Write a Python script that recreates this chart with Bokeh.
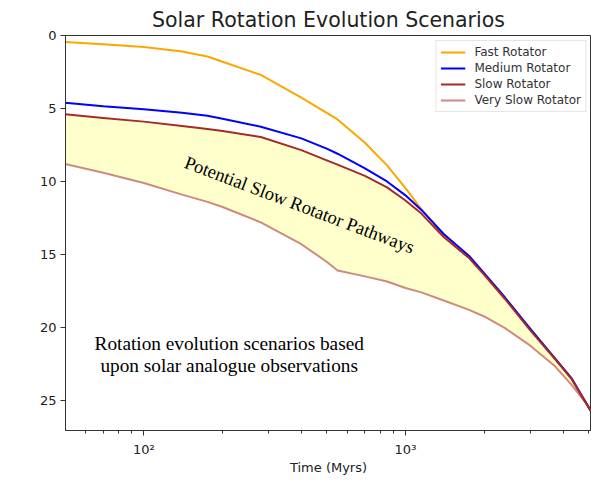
from bokeh.plotting import figure
from bokeh.models import Range1d, FixedTicker, Label, Legend
from bokeh.embed import file_html
from bokeh.resources import INLINE
import math

# ---- data ----
time_myr = [50, 70, 100, 140, 175, 200, 280, 400, 500, 550, 700, 850, 1000, 1150,
            1400, 1750, 2000, 2400, 3000, 3700, 4300, 5100]
fast_rot = [0.45, 0.6, 0.78, 1.1, 1.44, 1.8, 2.7, 4.25, 5.3, 5.75, 7.35, 8.9, 10.45, 11.9,
            13.65, 15.1, 16.3, 17.95, 20.1, 22.05, 23.45, 25.7]
medium_rot = [4.6, 4.85, 5.05, 5.3, 5.5, 5.7, 6.25, 7.05, 7.75, 8.1, 9.1, 10.0, 10.95, 11.95,
              13.6, 15.1, 16.3, 17.95, 20.1, 22.05, 23.45, 25.7]
slow_rot = [5.4, 5.65, 5.9, 6.2, 6.4, 6.55, 6.95, 7.85, 8.55, 8.85, 9.62, 10.4, 11.3, 12.2,
            13.8, 15.25, 16.4, 18.05, 20.2, 22.1, 23.5, 25.7]
very_slow_rot = [8.8, 9.4, 10.1, 10.9, 11.4, 11.75, 12.8, 14.3, 15.5, 16.1, 16.5, 16.85, 17.3, 17.6,
                 18.15, 18.8, 19.25, 20.05, 21.25, 22.6, 23.9, 25.6]
series_names = ["Fast Rotator", "Medium Rotator", "Slow Rotator", "Very Slow Rotator"]
y_ticks = [0, 5, 10, 15, 20, 25]
x_major_ticks = [100, 1000]
x_major_labels = {100: "10\u00b2", 1000: "10\u00b3"}
x_minor_ticks = [50, 60, 70, 80, 90, 200, 300, 400, 500, 600, 700, 800, 900, 2000, 3000, 4000, 5000]

p = figure(width=591, height=482, x_axis_type="log",
           x_range=Range1d(50.2, 5140), y_range=Range1d(27.06, 0),
           output_backend="svg", toolbar_location=None,
           min_border_left=65, min_border_right=0, min_border_top=35, min_border_bottom=52)

p.title.text = "Solar Rotation Evolution Scenarios"
p.title.align = "center"
p.title.text_font = "DejaVu Sans"
p.title.text_font_size = "20.5px"
p.title.text_font_style = "normal"
p.title.text_color = "#222222"
p.title.standoff = 8

p.xgrid.visible = False
p.ygrid.visible = False
p.outline_line_color = "#333333"
p.outline_line_width = 1

# fill between slow and very slow
p.varea(x=time_myr, y1=slow_rot, y2=very_slow_rot, fill_color="yellow", fill_alpha=0.2)

r_fast = p.line(time_myr, fast_rot, line_color="#FFA500", line_width=2, line_join="round")
r_med = p.line(time_myr, medium_rot, line_color="#0000FF", line_width=2, line_join="round")
r_slow = p.line(time_myr, slow_rot, line_color="#A52A2A", line_width=2, line_join="round")
r_vslow = p.line(time_myr, very_slow_rot, line_color="#A52A2A", line_alpha=0.55, line_width=2,
                 line_join="round")

legend = Legend(items=[(series_names[0], [r_fast]), (series_names[1], [r_med]),
                       (series_names[2], [r_slow]), (series_names[3], [r_vslow])],
                location="top_right")
legend.label_text_font = "DejaVu Sans"
legend.label_text_font_size = "12px"
legend.label_text_color = "#333333"
legend.glyph_width = 25
legend.glyph_height = 14
legend.label_height = 14
legend.spacing = 2
legend.padding = 4
legend.margin = 5
legend.label_standoff = 9
legend.border_line_color = "#cccccc"
legend.border_line_width = 1
legend.background_fill_alpha = 0.8
p.add_layout(legend)

# axes
p.xaxis.ticker = FixedTicker(ticks=x_major_ticks, minor_ticks=x_minor_ticks)
p.xaxis.major_label_overrides = x_major_labels
p.yaxis.ticker = FixedTicker(ticks=y_ticks)
for ax in (p.xaxis, p.yaxis):
    ax.axis_line_color = "#333333"
    ax.major_tick_line_color = "#333333"
    ax.minor_tick_line_color = "#333333"
    ax.major_tick_in = 0
    ax.major_tick_out = 5
    ax.minor_tick_in = 0
    ax.minor_tick_out = 3
    ax.major_label_text_font = "DejaVu Sans"
    ax.major_label_text_font_size = "13px"
    ax.major_label_text_color = "#222222"
    ax.major_label_standoff = 4
p.xaxis.major_label_standoff = 6
p.yaxis.minor_tick_line_color = None
p.xaxis.axis_label = "Time (Myrs)"
p.xaxis.axis_label_text_font = "DejaVu Sans"
p.xaxis.axis_label_text_font_size = "13px"
p.xaxis.axis_label_text_font_style = "normal"
p.xaxis.axis_label_text_color = "#222222"
p.xaxis.axis_label_standoff = 0

# y axis label: P_rot (days), built from pieces
ang = math.pi / 2
p.add_layout(Label(x=33.5, y=14.71, text="P", angle=ang, text_font="DejaVu Sans",
                   text_font_style="italic", text_font_size="13px", text_color="#222222",
                   text_align="left", text_baseline="middle"))
p.add_layout(Label(x=34.6, y=13.80, text="rot", angle=ang, text_font="DejaVu Sans",
                   text_font_style="italic", text_font_size="9px", text_color="#222222",
                   text_align="left", text_baseline="middle"))
p.add_layout(Label(x=33.5, y=12.86, text="(days)", angle=ang, text_font="DejaVu Sans",
                   text_font_size="13px", text_color="#222222",
                   text_align="left", text_baseline="middle"))

# annotations
p.add_layout(Label(x=144, y=8.65, text="Potential Slow Rotator Pathways", angle=-0.362,
                   text_font="Liberation Serif", text_font_size="18.5px", text_color="black",
                   text_align="left", text_baseline="alphabetic"))
p.add_layout(Label(x=212, y=21.09, text="Rotation evolution scenarios based",
                   text_font="Liberation Serif", text_font_size="19.3px", text_color="black",
                   text_align="center", text_baseline="alphabetic"))
p.add_layout(Label(x=212, y=22.6, text="upon solar analogue observations",
                   text_font="Liberation Serif", text_font_size="19.3px", text_color="black",
                   text_align="center", text_baseline="alphabetic"))

open("out.html", "w").write(file_html(p, INLINE))
